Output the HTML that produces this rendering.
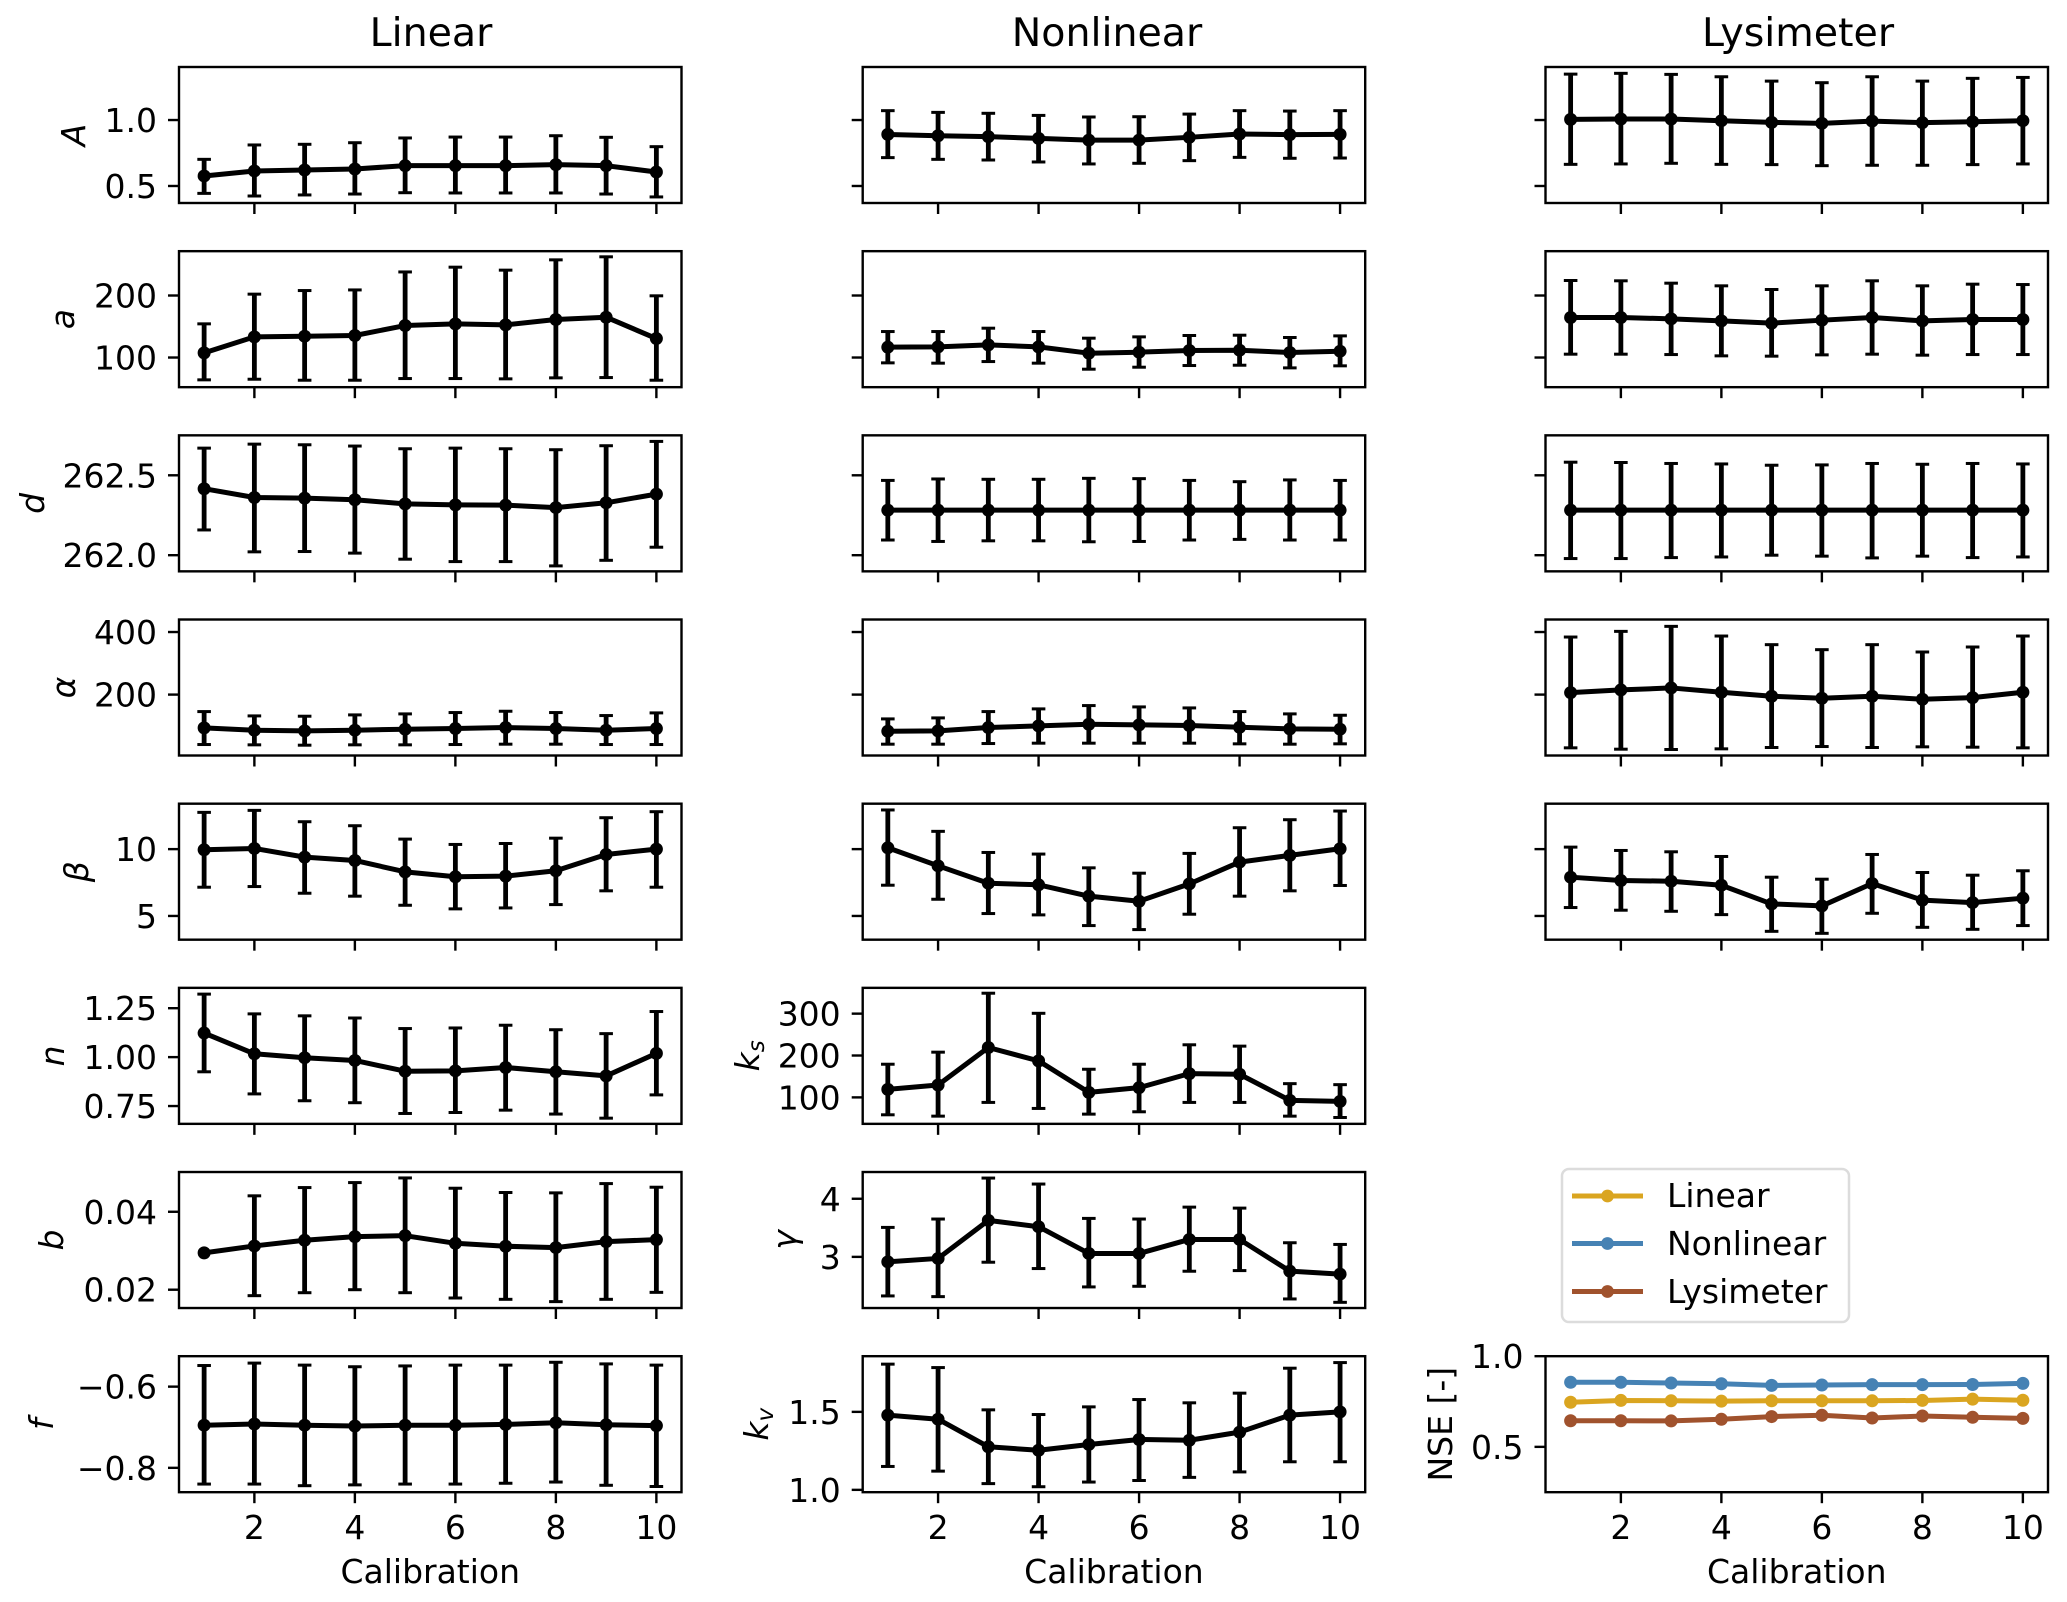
<!DOCTYPE html>
<html lang="en">
<head>
<meta charset="utf-8">
<title>Parameter values per calibration</title>
<style>
html,body{margin:0;padding:0;background:#fff;}
svg{display:block;}
text{font-family:"DejaVu Sans","Liberation Sans",sans-serif;fill:#000;}
</style>
</head>
<body>
<svg id="chart" xmlns="http://www.w3.org/2000/svg" width="2067" height="1602" viewBox="0 0 2067 1602">
  <rect x="0" y="0" width="2067" height="1602" fill="#fff"/>
  <g id="panels"></g>
  <g>
    <rect x="1562" y="1169" width="287" height="153" rx="7" ry="7" fill="#fff" stroke="#dcdcdc" stroke-width="2.5"/>
    <g>
      <line x1="1572" y1="1196" x2="1643" y2="1196" stroke="#DAA520" stroke-width="5"/>
      <circle cx="1607.5" cy="1196" r="6.4" fill="#DAA520"/>
      <text x="1667" y="1207" font-size="33">Linear</text>
    </g>
    <g>
      <line x1="1572" y1="1243.5" x2="1643" y2="1243.5" stroke="#4682B4" stroke-width="5"/>
      <circle cx="1607.5" cy="1243.5" r="6.4" fill="#4682B4"/>
      <text x="1667" y="1255" font-size="33">Nonlinear</text>
    </g>
    <g>
      <line x1="1572" y1="1291.5" x2="1643" y2="1291.5" stroke="#A0522D" stroke-width="5"/>
      <circle cx="1607.5" cy="1291.5" r="6.4" fill="#A0522D"/>
      <text x="1667" y="1303" font-size="33">Lysimeter</text>
    </g>
  </g>
</svg>
<script>
// ---- shared categories and tick values ----
const calibrations = [1, 2, 3, 4, 5, 6, 7, 8, 9, 10];
const xTickValues = [2, 4, 6, 8, 10];
const xLimits = [0.5, 10.5];

// ---- parameter A ----
const aCapLinearMean = [0.576, 0.614, 0.621, 0.629, 0.654, 0.654, 0.654, 0.662, 0.654, 0.606];
const aCapLinearUpper = [0.702, 0.811, 0.816, 0.828, 0.864, 0.871, 0.871, 0.881, 0.869, 0.798];
const aCapLinearLower = [0.444, 0.424, 0.432, 0.439, 0.449, 0.447, 0.447, 0.447, 0.439, 0.417];
const aCapNonlinearMean = [0.891, 0.881, 0.874, 0.861, 0.848, 0.848, 0.869, 0.894, 0.889, 0.891];
const aCapNonlinearUpper = [1.071, 1.058, 1.051, 1.035, 1.023, 1.025, 1.045, 1.071, 1.068, 1.071];
const aCapNonlinearLower = [0.715, 0.702, 0.697, 0.682, 0.667, 0.672, 0.692, 0.717, 0.710, 0.712];
const aCapLysimeterMean = [1.005, 1.008, 1.008, 0.995, 0.982, 0.975, 0.992, 0.980, 0.987, 0.995];
const aCapLysimeterUpper = [1.348, 1.354, 1.346, 1.328, 1.295, 1.283, 1.328, 1.295, 1.316, 1.323];
const aCapLysimeterLower = [0.664, 0.667, 0.672, 0.664, 0.662, 0.654, 0.657, 0.657, 0.662, 0.667];

// ---- parameter a ----
const aLowLinearMean = [107.5, 133.3, 134.4, 135.5, 151.6, 154.3, 152.7, 161.3, 165.0, 130.6];
const aLowLinearUpper = [154.3, 202.2, 208.0, 209.0, 238.0, 245.7, 240.9, 257.5, 262.4, 199.5];
const aLowLinearLower = [64.0, 65.0, 63.4, 63.4, 66.1, 66.1, 65.6, 67.2, 67.7, 63.4];
const aLowNonlinearMean = [116.7, 117.2, 120.4, 117.2, 107.0, 108.6, 111.3, 111.8, 108.1, 110.2];
const aLowNonlinearUpper = [141.9, 141.9, 147.3, 141.9, 131.2, 133.3, 135.5, 136.0, 132.3, 134.9];
const aLowNonlinearLower = [91.4, 90.9, 93.5, 90.9, 81.2, 84.4, 87.1, 87.6, 83.3, 86.6];
const aLowLysimeterMean = [164.5, 164.5, 162.4, 159.1, 155.4, 160.2, 164.5, 159.1, 161.3, 161.3];
const aLowLysimeterUpper = [224.2, 223.7, 219.9, 215.6, 209.7, 215.6, 223.7, 215.6, 218.3, 217.7];
const aLowLysimeterLower = [105.4, 105.4, 104.8, 102.7, 102.2, 104.3, 105.4, 103.8, 104.8, 104.8];

// ---- parameter d ----
const dLinearMean = [262.416, 262.361, 262.357, 262.347, 262.321, 262.315, 262.313, 262.298, 262.328, 262.382];
const dLinearUpper = [262.670, 262.695, 262.691, 262.683, 262.666, 262.670, 262.666, 262.660, 262.685, 262.712];
const dLinearLower = [262.158, 262.021, 262.023, 262.013, 261.975, 261.960, 261.960, 261.933, 261.968, 262.050];
const dNonlinearMean = [262.282, 262.282, 262.282, 262.282, 262.282, 262.282, 262.282, 262.282, 262.282, 262.282];
const dNonlinearUpper = [262.468, 262.477, 262.475, 262.475, 262.481, 262.479, 262.468, 262.460, 262.471, 262.468];
const dNonlinearLower = [262.095, 262.086, 262.090, 262.090, 262.084, 262.086, 262.095, 262.099, 262.095, 262.095];
const dLysimeterMean = [262.282, 262.282, 262.282, 262.282, 262.282, 262.282, 262.282, 262.282, 262.282, 262.282];
const dLysimeterUpper = [262.582, 262.580, 262.574, 262.571, 262.563, 262.565, 262.574, 262.569, 262.574, 262.571];
const dLysimeterLower = [261.979, 261.979, 261.985, 261.989, 262.000, 261.994, 261.983, 261.994, 261.985, 261.989];

// ---- parameter alpha ----
const alphaLinearMean = [93.6, 86.2, 84.0, 86.2, 89.4, 91.5, 94.7, 91.5, 86.2, 91.5];
const alphaLinearUpper = [145.7, 131.9, 130.9, 135.1, 138.3, 142.6, 146.8, 142.6, 133.0, 141.5];
const alphaLinearLower = [40.4, 39.4, 38.3, 39.4, 39.4, 40.4, 41.5, 41.5, 40.4, 40.4];
const alphaNonlinearMean = [83.0, 84.0, 94.7, 100.0, 105.3, 103.2, 101.1, 95.7, 90.4, 89.4];
const alphaNonlinearUpper = [122.3, 125.5, 145.7, 154.3, 164.9, 160.6, 157.4, 145.7, 138.3, 134.0];
const alphaNonlinearLower = [41.5, 41.5, 43.6, 44.7, 44.7, 44.7, 44.7, 42.6, 41.5, 42.6];
const alphaLysimeterMean = [206.4, 214.9, 221.3, 207.4, 194.7, 188.3, 194.7, 185.1, 190.4, 207.4];
const alphaLysimeterUpper = [384.0, 402.1, 418.1, 387.2, 359.6, 343.6, 359.6, 336.2, 352.1, 387.2];
const alphaLysimeterLower = [29.8, 25.5, 24.5, 26.6, 30.9, 34.0, 30.9, 33.0, 31.9, 29.8];

// ---- parameter beta ----
const betaLinearMean = [9.95, 10.05, 9.40, 9.15, 8.30, 7.93, 7.98, 8.38, 9.60, 10.00];
const betaLinearUpper = [12.75, 12.90, 12.05, 11.75, 10.75, 10.35, 10.42, 10.82, 12.35, 12.80];
const betaLinearLower = [7.15, 7.20, 6.70, 6.48, 5.80, 5.53, 5.60, 5.85, 6.88, 7.15];
const betaNonlinearMean = [10.10, 8.75, 7.45, 7.33, 6.48, 6.10, 7.40, 9.03, 9.53, 10.03];
const betaNonlinearUpper = [12.93, 11.33, 9.75, 9.63, 8.60, 8.20, 9.68, 11.60, 12.20, 12.85];
const betaNonlinearLower = [7.30, 6.25, 5.18, 5.08, 4.28, 3.98, 5.13, 6.48, 6.88, 7.28];
const betaLysimeterMean = [7.90, 7.65, 7.60, 7.30, 5.90, 5.75, 7.43, 6.18, 6.00, 6.33];
const betaLysimeterUpper = [10.15, 9.90, 9.80, 9.45, 7.90, 7.75, 9.60, 8.25, 8.05, 8.38];
const betaLysimeterLower = [5.63, 5.43, 5.35, 5.10, 3.85, 3.70, 5.20, 4.15, 4.00, 4.28];

// ---- parameter n ----
const nLinearMean = [1.123, 1.017, 0.997, 0.983, 0.928, 0.930, 0.947, 0.925, 0.904, 1.019];
const nLinearUpper = [1.322, 1.221, 1.211, 1.200, 1.146, 1.149, 1.163, 1.140, 1.120, 1.233];
const nLinearLower = [0.925, 0.812, 0.777, 0.767, 0.712, 0.717, 0.729, 0.709, 0.688, 0.807];

// ---- parameter k_s ----
const ksNonlinearMean = [119.2, 129.6, 219.2, 187.2, 112.0, 123.2, 156.8, 155.2, 92.8, 90.4];
const ksNonlinearUpper = [179.2, 208.0, 348.8, 300.8, 167.2, 179.2, 225.6, 222.4, 132.8, 130.4];
const ksNonlinearLower = [58.4, 55.2, 88.0, 73.6, 60.0, 65.6, 88.0, 88.0, 55.2, 52.0];

// ---- parameter b ----
const bLinearMean = [0.02945, 0.03123, 0.03268, 0.03362, 0.03387, 0.03191, 0.03115, 0.03081, 0.03234, 0.03285];
const bLinearUpper = [0.02945, 0.04409, 0.04621, 0.04749, 0.04868, 0.04604, 0.04494, 0.04485, 0.04723, 0.04630];
const bLinearLower = [0.02945, 0.01847, 0.01923, 0.02000, 0.01923, 0.01787, 0.01753, 0.01694, 0.01753, 0.01932];

// ---- parameter gamma ----
const gammaNonlinearMean = [2.915, 2.973, 3.628, 3.519, 3.059, 3.059, 3.300, 3.300, 2.754, 2.704];
const gammaNonlinearUpper = [3.507, 3.651, 4.356, 4.253, 3.662, 3.651, 3.856, 3.839, 3.243, 3.214];
const gammaNonlinearLower = [2.328, 2.316, 2.908, 2.799, 2.483, 2.494, 2.753, 2.764, 2.276, 2.218];

// ---- parameter f ----
const fLinearMean = [-0.695, -0.692, -0.695, -0.697, -0.695, -0.695, -0.693, -0.689, -0.694, -0.696];
const fLinearUpper = [-0.548, -0.542, -0.547, -0.551, -0.549, -0.547, -0.547, -0.540, -0.544, -0.547];
const fLinearLower = [-0.840, -0.840, -0.844, -0.842, -0.840, -0.840, -0.838, -0.835, -0.843, -0.846];

// ---- parameter k_v ----
const kvNonlinearMean = [1.479, 1.453, 1.276, 1.254, 1.291, 1.323, 1.318, 1.370, 1.479, 1.500];
const kvNonlinearUpper = [1.806, 1.784, 1.513, 1.483, 1.532, 1.579, 1.558, 1.620, 1.780, 1.816];
const kvNonlinearLower = [1.150, 1.120, 1.040, 1.020, 1.050, 1.060, 1.080, 1.115, 1.180, 1.180];

// ---- NSE ----
const nseLinear = [0.746, 0.756, 0.754, 0.752, 0.754, 0.754, 0.754, 0.756, 0.763, 0.757];
const nseNonlinear = [0.856, 0.856, 0.852, 0.848, 0.839, 0.841, 0.843, 0.843, 0.844, 0.850];
const nseLysimeter = [0.644, 0.644, 0.643, 0.652, 0.667, 0.674, 0.659, 0.670, 0.663, 0.657];

// ---- axis limits and tick labels ----
const yLimitsACap = [0.371, 1.402];
const yLimitsALow = [52.2, 271.5];
const yLimitsD = [261.899, 262.75];
const yLimitsAlpha = [5.3, 440];
const yLimitsBeta = [3.225, 13.4];
const yLimitsN = [0.659, 1.354];
const yLimitsKs = [36.8, 361.6];
const yLimitsB = [0.0153, 0.0502];
const yLimitsGamma = [2.12, 4.46];
const yLimitsF = [-0.860, -0.525];
const yLimitsKv = [0.985, 1.857];
const yLimitsNse = [0.25, 1.0];

const yTicksACap = [0.5, 1.0];
const yTickLabelsACap = ['0.5', '1.0'];
const yTicksALow = [100, 200];
const yTickLabelsALow = ['100', '200'];
const yTicksD = [262.0, 262.5];
const yTickLabelsD = ['262.0', '262.5'];
const yTicksAlpha = [200, 400];
const yTickLabelsAlpha = ['200', '400'];
const yTicksBeta = [5, 10];
const yTickLabelsBeta = ['5', '10'];
const yTicksN = [0.75, 1.0, 1.25];
const yTickLabelsN = ['0.75', '1.00', '1.25'];
const yTicksKs = [100, 200, 300];
const yTickLabelsKs = ['100', '200', '300'];
const yTicksB = [0.02, 0.04];
const yTickLabelsB = ['0.02', '0.04'];
const yTicksGamma = [3, 4];
const yTickLabelsGamma = ['3', '4'];
const yTicksF = [-0.8, -0.6];
const yTickLabelsF = ['\u22120.8', '\u22120.6'];
const yTicksKv = [1.0, 1.5];
const yTickLabelsKv = ['1.0', '1.5'];
const yTicksNse = [0.5, 1.0];
const yTickLabelsNse = ['0.5', '1.0'];

const columnTitles = ['Linear', 'Nonlinear', 'Lysimeter'];
const xAxisTitle = 'Calibration';

// ---- layout ----
const SVG_NS = 'http://www.w3.org/2000/svg';
const COLUMN_LEFT = [179, 862.7, 1545.5];
const AXES_WIDTH = 502.5;
const AXES_HEIGHT = 136;
const ROW_TOP = 67;
const ROW_PITCH = 184.17;
const root = document.getElementById('panels');

function make(tag, attrs, parent, text) {
  const el = document.createElementNS(SVG_NS, tag);
  for (const k in attrs) el.setAttribute(k, attrs[k]);
  if (text !== undefined) el.textContent = text;
  parent.appendChild(el);
  return el;
}

function xScale(col, v) {
  return COLUMN_LEFT[col] + (v - xLimits[0]) / (xLimits[1] - xLimits[0]) * AXES_WIDTH;
}

function yScale(row, lim, v) {
  const top = ROW_TOP + row * ROW_PITCH;
  return top + (lim[1] - v) / (lim[1] - lim[0]) * AXES_HEIGHT;
}

function drawTicks(g, p) {
  const left = COLUMN_LEFT[p.col];
  const bottom = ROW_TOP + p.row * ROW_PITCH + AXES_HEIGHT;
  xTickValues.forEach(function (t) {
    const x = xScale(p.col, t);
    const tick = make('line', { x1: x, y1: bottom, x2: x, y2: bottom + 11, stroke: '#000', 'stroke-width': 2.4 }, g);
    
    
    if (p.row === 7) {
      const lab = make('text', { x: x, y: bottom + 47, 'font-size': 33, 'text-anchor': 'middle' }, g, String(t));
      
      
    }
  });
  p.yTicks.forEach(function (t, i) {
    const y = yScale(p.row, p.lim, t);
    const tick = make('line', { x1: left - 11, y1: y, x2: left, y2: y, stroke: '#000', 'stroke-width': 2.4 }, g);
    
    
    if (p.showYLabels) {
      const lab = make('text', { x: left - 22, y: y + 12, 'font-size': 33, 'text-anchor': 'end' }, g, p.yTickLabels[i]);
      
      
    }
  });
}

function drawYLabel(g, p) {
  if (!p.yLabel) return;
  const cy = ROW_TOP + p.row * ROW_PITCH + AXES_HEIGHT / 2;
  const t = make('text', {
    x: p.yLabelX, y: cy, 'font-size': 33, 'text-anchor': 'middle',
    transform: 'rotate(-90 ' + p.yLabelX + ' ' + cy + ')'
  }, g);
  
  
  const main = make('tspan', { 'font-style': p.yLabelPlain ? 'normal' : 'italic' }, t, p.yLabel);
  
  
  if (p.yLabelSub) {
    const sub = make('tspan', { 'font-style': 'italic', 'font-size': 23, dy: 5 }, t, p.yLabelSub);
    
    
  }
}

function drawFrame(g, p) {
  const f = make('rect', {
    x: COLUMN_LEFT[p.col], y: ROW_TOP + p.row * ROW_PITCH, width: AXES_WIDTH, height: AXES_HEIGHT,
    fill: 'none', stroke: '#000', 'stroke-width': 2.4
  }, g);
  
  
}

function drawSeries(g, p, values, color, seriesName) {
  const pts = calibrations.map(function (c, i) {
    return xScale(p.col, c).toFixed(2) + ',' + yScale(p.row, p.lim, values[i]).toFixed(2);
  }).join(' ');
  const line = make('polyline', { points: pts, fill: 'none', stroke: color, 'stroke-width': 5, 'stroke-linejoin': 'round' }, g);
  
  
  calibrations.forEach(function (c, i) {
    const dot = make('circle', { cx: xScale(p.col, c), cy: yScale(p.row, p.lim, values[i]), r: 6.5, fill: color }, g);
    
    
  });
}

function drawErrorBars(g, p) {
  calibrations.forEach(function (c, i) {
    const x = xScale(p.col, c);
    const yUp = yScale(p.row, p.lim, p.upper[i]);
    const yLo = yScale(p.row, p.lim, p.lower[i]);
    const bar = make('line', { x1: x, y1: yUp, x2: x, y2: yLo, stroke: '#000', 'stroke-width': 4.8 }, g);
    
    
    [yUp, yLo].forEach(function (y, k) {
      if (p.upper[i] === p.lower[i]) return;
      const cap = make('line', { x1: x - 6.8, y1: y, x2: x + 6.8, y2: y, stroke: '#000', 'stroke-width': 3 }, g);
      
      
    });
  });
}

const panels = [
  { id: 'a-cap-linear', col: 0, row: 0, lim: yLimitsACap, yTicks: yTicksACap, yTickLabels: yTickLabelsACap, showYLabels: true, yLabel: 'A', yLabelX: 85, mean: aCapLinearMean, upper: aCapLinearUpper, lower: aCapLinearLower },
  { id: 'a-cap-nonlinear', col: 1, row: 0, lim: yLimitsACap, yTicks: yTicksACap, mean: aCapNonlinearMean, upper: aCapNonlinearUpper, lower: aCapNonlinearLower },
  { id: 'a-cap-lysimeter', col: 2, row: 0, lim: yLimitsACap, yTicks: yTicksACap, mean: aCapLysimeterMean, upper: aCapLysimeterUpper, lower: aCapLysimeterLower },

  { id: 'a-low-linear', col: 0, row: 1, lim: yLimitsALow, yTicks: yTicksALow, yTickLabels: yTickLabelsALow, showYLabels: true, yLabel: 'a', yLabelX: 74, mean: aLowLinearMean, upper: aLowLinearUpper, lower: aLowLinearLower },
  { id: 'a-low-nonlinear', col: 1, row: 1, lim: yLimitsALow, yTicks: yTicksALow, mean: aLowNonlinearMean, upper: aLowNonlinearUpper, lower: aLowNonlinearLower },
  { id: 'a-low-lysimeter', col: 2, row: 1, lim: yLimitsALow, yTicks: yTicksALow, mean: aLowLysimeterMean, upper: aLowLysimeterUpper, lower: aLowLysimeterLower },

  { id: 'd-linear', col: 0, row: 2, lim: yLimitsD, yTicks: yTicksD, yTickLabels: yTickLabelsD, showYLabels: true, yLabel: 'd', yLabelX: 44, mean: dLinearMean, upper: dLinearUpper, lower: dLinearLower },
  { id: 'd-nonlinear', col: 1, row: 2, lim: yLimitsD, yTicks: yTicksD, mean: dNonlinearMean, upper: dNonlinearUpper, lower: dNonlinearLower },
  { id: 'd-lysimeter', col: 2, row: 2, lim: yLimitsD, yTicks: yTicksD, mean: dLysimeterMean, upper: dLysimeterUpper, lower: dLysimeterLower },

  { id: 'alpha-linear', col: 0, row: 3, lim: yLimitsAlpha, yTicks: yTicksAlpha, yTickLabels: yTickLabelsAlpha, showYLabels: true, yLabel: '\u03B1', yLabelX: 75, mean: alphaLinearMean, upper: alphaLinearUpper, lower: alphaLinearLower },
  { id: 'alpha-nonlinear', col: 1, row: 3, lim: yLimitsAlpha, yTicks: yTicksAlpha, mean: alphaNonlinearMean, upper: alphaNonlinearUpper, lower: alphaNonlinearLower },
  { id: 'alpha-lysimeter', col: 2, row: 3, lim: yLimitsAlpha, yTicks: yTicksAlpha, mean: alphaLysimeterMean, upper: alphaLysimeterUpper, lower: alphaLysimeterLower },

  { id: 'beta-linear', col: 0, row: 4, lim: yLimitsBeta, yTicks: yTicksBeta, yTickLabels: yTickLabelsBeta, showYLabels: true, yLabel: '\u03B2', yLabelX: 88, mean: betaLinearMean, upper: betaLinearUpper, lower: betaLinearLower },
  { id: 'beta-nonlinear', col: 1, row: 4, lim: yLimitsBeta, yTicks: yTicksBeta, mean: betaNonlinearMean, upper: betaNonlinearUpper, lower: betaNonlinearLower },
  { id: 'beta-lysimeter', col: 2, row: 4, lim: yLimitsBeta, yTicks: yTicksBeta, mean: betaLysimeterMean, upper: betaLysimeterUpper, lower: betaLysimeterLower },

  { id: 'n-linear', col: 0, row: 5, lim: yLimitsN, yTicks: yTicksN, yTickLabels: yTickLabelsN, showYLabels: true, yLabel: 'n', yLabelX: 64, mean: nLinearMean, upper: nLinearUpper, lower: nLinearLower },
  { id: 'ks-nonlinear', col: 1, row: 5, lim: yLimitsKs, yTicks: yTicksKs, yTickLabels: yTickLabelsKs, showYLabels: true, yLabel: 'k', yLabelSub: 's', yLabelX: 759, mean: ksNonlinearMean, upper: ksNonlinearUpper, lower: ksNonlinearLower },

  { id: 'b-linear', col: 0, row: 6, lim: yLimitsB, yTicks: yTicksB, yTickLabels: yTickLabelsB, showYLabels: true, yLabel: 'b', yLabelX: 63, mean: bLinearMean, upper: bLinearUpper, lower: bLinearLower },
  { id: 'gamma-nonlinear', col: 1, row: 6, lim: yLimitsGamma, yTicks: yTicksGamma, yTickLabels: yTickLabelsGamma, showYLabels: true, yLabel: '\u03B3', yLabelX: 796, mean: gammaNonlinearMean, upper: gammaNonlinearUpper, lower: gammaNonlinearLower },

  { id: 'f-linear', col: 0, row: 7, lim: yLimitsF, yTicks: yTicksF, yTickLabels: yTickLabelsF, showYLabels: true, yLabel: 'f', yLabelX: 53, mean: fLinearMean, upper: fLinearUpper, lower: fLinearLower },
  { id: 'kv-nonlinear', col: 1, row: 7, lim: yLimitsKv, yTicks: yTicksKv, yTickLabels: yTickLabelsKv, showYLabels: true, yLabel: 'k', yLabelSub: 'v', yLabelX: 768, mean: kvNonlinearMean, upper: kvNonlinearUpper, lower: kvNonlinearLower },

  { id: 'nse', col: 2, row: 7, lim: yLimitsNse, yTicks: yTicksNse, yTickLabels: yTickLabelsNse, showYLabels: true, yLabel: 'NSE [-]', yLabelPlain: true, yLabelX: 1452 }
];

panels.forEach(function (p) {
  const g = make('g', {}, root);
  
  
  drawTicks(g, p);
  drawYLabel(g, p);
  if (p.id === 'nse') {
    drawSeries(g, p, nseLinear, '#DAA520', 'nse-linear');
    drawSeries(g, p, nseNonlinear, '#4682B4', 'nse-nonlinear');
    drawSeries(g, p, nseLysimeter, '#A0522D', 'nse-lysimeter');
  } else {
    drawErrorBars(g, p);
    drawSeries(g, p, p.mean, '#000', p.id + '-mean');
  }
  drawFrame(g, p);
});

// column titles
const titleCenters = [431, 1107, 1798];
columnTitles.forEach(function (name, i) {
  const t = make('text', { x: titleCenters[i], y: 46, 'font-size': 39.5, 'text-anchor': 'middle' }, root, name);
  
  
});

// x axis titles
COLUMN_LEFT.forEach(function (left, i) {
  const t = make('text', { x: left + AXES_WIDTH / 2, y: 1583, 'font-size': 33, 'text-anchor': 'middle' }, root, xAxisTitle);
  
  
});
</script>
</body>
</html>
